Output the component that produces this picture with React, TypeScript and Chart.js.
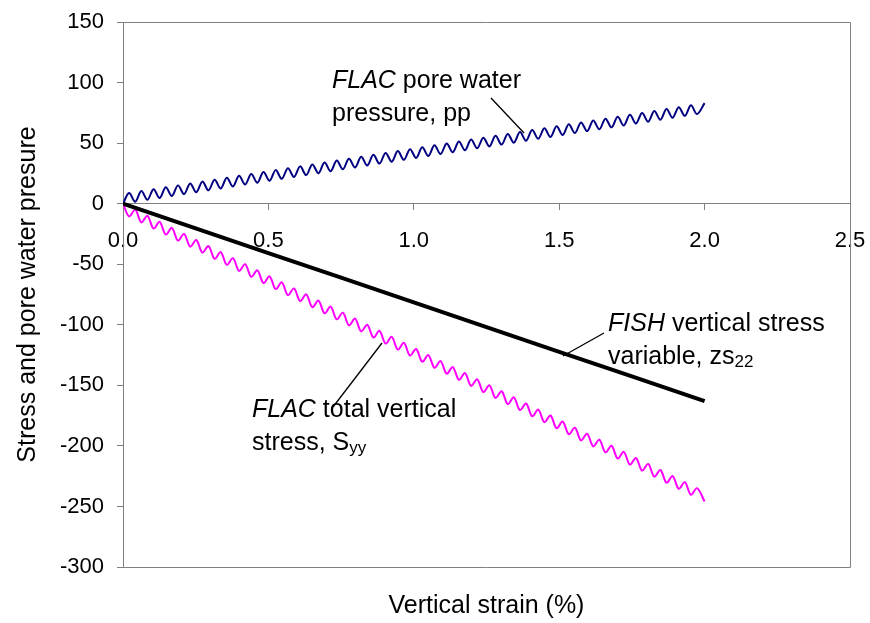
import React, { useEffect, useRef } from 'react';
import { Chart, registerables } from 'chart.js';

Chart.register(...registerables);

// Vertical strain (%) sample points for the FLAC histories
const strain = [
  0, 0.021, 0.042, 0.063, 0.084, 0.105, 0.126, 0.147, 0.168, 0.189,
  0.21, 0.231, 0.252, 0.273, 0.294, 0.315, 0.336, 0.357, 0.378, 0.399,
  0.42, 0.441, 0.462, 0.483, 0.504, 0.525, 0.546, 0.567, 0.588, 0.609,
  0.63, 0.651, 0.672, 0.693, 0.714, 0.735, 0.756, 0.777, 0.798, 0.819,
  0.84, 0.861, 0.882, 0.903, 0.924, 0.945, 0.966, 0.987, 1.008, 1.029,
  1.05, 1.071, 1.092, 1.113, 1.134, 1.155, 1.176, 1.197, 1.218, 1.239,
  1.26, 1.281, 1.302, 1.323, 1.344, 1.365, 1.386, 1.407, 1.428, 1.449,
  1.47, 1.491, 1.512, 1.533, 1.554, 1.575, 1.596, 1.617, 1.638, 1.659,
  1.68, 1.701, 1.722, 1.743, 1.764, 1.785, 1.806, 1.827, 1.848, 1.869,
  1.89, 1.911, 1.932, 1.953, 1.974, 2.0,
];

// FLAC pore water pressure, pp
const porePressure = [
  0, 8.8, 1.6, 10.4, 3.2, 11.9, 4.7, 13.5, 6.3, 15.1,
  7.9, 16.7, 9.5, 18.2, 11.0, 19.8, 12.6, 21.4, 14.2, 23.0,
  15.8, 24.5, 17.3, 26.1, 18.9, 27.7, 20.5, 29.3, 22.1, 30.8,
  23.6, 32.4, 25.2, 34.0, 26.8, 35.6, 28.4, 37.1, 29.9, 38.7,
  31.5, 40.3, 33.1, 41.9, 34.7, 43.4, 36.2, 45.0, 37.8, 46.6,
  39.4, 48.2, 41.0, 49.7, 42.5, 51.3, 44.1, 52.9, 45.7, 54.5,
  47.3, 56.0, 48.8, 57.6, 50.4, 59.2, 52.0, 60.8, 53.6, 62.3,
  55.1, 63.9, 56.7, 65.5, 58.3, 67.1, 59.9, 68.6, 61.4, 70.2,
  63.0, 71.8, 64.6, 73.4, 66.2, 74.9, 67.7, 76.5, 69.3, 78.1,
  70.9, 79.7, 72.5, 81.2, 74.0, 83.0,
];

// FLAC total vertical stress, Syy
const totalStress = [
  0, -10.5, -5.0, -15.5, -10.0, -20.5, -15.0, -25.5, -20.0, -30.5,
  -25.0, -35.5, -30.0, -40.4, -35.0, -45.5, -40.0, -50.5, -45.0, -55.5,
  -50.0, -60.4, -55.0, -65.5, -60.0, -70.5, -65.0, -75.5, -70.0, -80.4,
  -74.9, -85.5, -80.0, -90.5, -85.0, -95.5, -90.0, -100.4, -94.9, -105.4,
  -100.0, -110.5, -105.0, -115.5, -110.0, -120.4, -114.9, -125.4, -120.0, -130.5,
  -125.0, -135.5, -130.0, -140.4, -134.9, -145.4, -139.9, -150.5, -145.0, -155.5,
  -150.0, -160.4, -154.9, -165.4, -159.9, -170.4, -165.0, -175.5, -170.0, -180.4,
  -174.9, -185.4, -179.9, -190.4, -185.0, -195.5, -190.0, -200.4, -194.9, -205.4,
  -199.9, -210.4, -204.9, -215.5, -210.0, -220.4, -214.9, -225.4, -219.9, -230.4,
  -224.9, -235.4, -230.0, -240.4, -234.9, -246.0,
];

// FISH vertical stress variable, zs22
const fishStrain = [0, 0.25, 0.5, 0.75, 1.0, 1.25, 1.5, 1.75, 2.0];
const fishStress = [0, -20.4, -40.8, -61.1, -81.5, -101.9, -122.3, -142.6, -163];

const xTickMin = 0;
const xTickMax = 2.5;
const xTickStep = 0.5;
const yTickMin = -300;
const yTickMax = 150;
const yTickStep = 50;

const xTitle = 'Vertical strain (%)';
const yTitle = 'Stress and pore water presure';

const FAMILY = '"Liberation Sans", Arial, Helvetica, sans-serif';
const TICK_SIZE = 22;
const TEXT_SIZE = 25;
const AXIS_GRAY = '#808080';

type Seg = { t: string; italic?: boolean; sub?: boolean };

const annotations: { lines: { x: number; y: number; segs: Seg[] }[]; leader: [number, number, number, number] }[] = [
  {
    lines: [
      { x: 332, y: 88, segs: [{ t: 'FLAC', italic: true }, { t: ' pore water' }] },
      { x: 332, y: 121, segs: [{ t: 'pressure, pp' }] },
    ],
    leader: [491, 98, 524, 133],
  },
  {
    lines: [
      { x: 608, y: 331, segs: [{ t: 'FISH', italic: true }, { t: ' vertical stress' }] },
      { x: 608, y: 364, segs: [{ t: 'variable, zs' }, { t: '22', sub: true }] },
    ],
    leader: [604, 333, 563, 356],
  },
  {
    lines: [
      { x: 252, y: 417, segs: [{ t: 'FLAC', italic: true }, { t: ' total vertical' }] },
      { x: 252, y: 450, segs: [{ t: 'stress, S' }, { t: 'yy', sub: true }] },
    ],
    leader: [382, 343, 333, 407],
  },
];

function drawRich(ctx: CanvasRenderingContext2D, x: number, y: number, segs: Seg[], size: number) {
  let cx = x;
  for (const s of segs) {
    const fs = s.sub ? Math.round(size * 0.66) : size;
    ctx.font = `${s.italic ? 'italic ' : ''}${fs}px ${FAMILY}`;
    ctx.fillText(s.t, cx, y + (s.sub ? size * 0.1 : 0));
    cx += ctx.measureText(s.t).width;
  }
}

const overlayPlugin = {
  id: 'overlay',
  afterDraw(chart: any) {
    const ctx: CanvasRenderingContext2D = chart.ctx;
    const a = chart.chartArea;
    ctx.save();
    // plot area frame (top, right, bottom)
    ctx.strokeStyle = AXIS_GRAY;
    ctx.lineWidth = 1;
    ctx.beginPath();
    ctx.moveTo(a.left, a.top + 0.5);
    ctx.lineTo(a.right + 0.5, a.top + 0.5);
    ctx.lineTo(a.right + 0.5, a.bottom + 0.5);
    ctx.lineTo(a.left, a.bottom + 0.5);
    ctx.stroke();

    // axis titles
    ctx.fillStyle = '#000';
    ctx.font = `${TEXT_SIZE}px ${FAMILY}`;
    ctx.textAlign = 'center';
    ctx.textBaseline = 'middle';
    ctx.fillText(xTitle, (a.left + a.right) / 2, 606);
    ctx.save();
    ctx.translate(28, (a.top + a.bottom) / 2);
    ctx.rotate(-Math.PI / 2);
    ctx.fillText(yTitle, 0, 0);
    ctx.restore();

    // annotations
    ctx.textAlign = 'left';
    ctx.textBaseline = 'alphabetic';
    for (const an of annotations) {
      for (const ln of an.lines) drawRich(ctx, ln.x, ln.y, ln.segs, TEXT_SIZE);
      const [x1, y1, x2, y2] = an.leader;
      ctx.strokeStyle = '#000';
      ctx.lineWidth = 1.3;
      ctx.beginPath();
      ctx.moveTo(x1, y1);
      ctx.lineTo(x2, y2);
      ctx.stroke();
    }
    ctx.restore();
  },
};

export default function App() {
  const ref = useRef<HTMLCanvasElement | null>(null);

  useEffect(() => {
    if (!ref.current) return;
    const tickFont = { family: FAMILY, size: TICK_SIZE };
    const chart = new Chart(ref.current, {
      type: 'line',
      data: {
        datasets: [
          {
            label: 'FISH vertical stress variable, zs22',
            data: fishStrain.map((x, i) => ({ x, y: fishStress[i] })),
            borderColor: '#000000',
            borderWidth: 4,
            pointRadius: 0,
            tension: 0,
          },
          {
            label: 'FLAC pore water pressure, pp',
            data: strain.map((x, i) => ({ x, y: porePressure[i] })),
            borderColor: '#000080',
            borderWidth: 2,
            pointRadius: 0,
            tension: 0.35,
          },
          {
            label: 'FLAC total vertical stress, Syy',
            data: strain.map((x, i) => ({ x, y: totalStress[i] })),
            borderColor: '#FF00FF',
            borderWidth: 2,
            pointRadius: 0,
            tension: 0.35,
          },
        ],
      },
      options: {
        animation: false,
        responsive: false,
        devicePixelRatio: 1,
        layout: { padding: { top: 22, right: 20, bottom: 56, left: 0 } },
        plugins: { legend: { display: false }, tooltip: { enabled: false } },
        scales: {
          x: {
            type: 'linear',
            min: xTickMin,
            max: xTickMax,
            position: { y: 0 } as any,
            afterFit: (s: any) => {
              s.height = 0;
              s.paddingLeft = 0;
              s.paddingRight = 0;
            },
            ticks: {
              stepSize: xTickStep,
              autoSkip: false,
              maxRotation: 0,
              padding: 18,
              color: '#000',
              font: tickFont,
              callback: (v: any) => Number(v).toFixed(1),
            },
            grid: { drawOnChartArea: false, drawTicks: true, tickLength: 6, color: AXIS_GRAY },
            border: { display: true, color: AXIS_GRAY, width: 1 },
          },
          y: {
            type: 'linear',
            min: yTickMin,
            max: yTickMax,
            afterFit: (s: any) => {
              s.width = 123;
              s.paddingTop = 0;
              s.paddingBottom = 0;
            },
            ticks: { stepSize: yTickStep, padding: 13, color: '#000', font: tickFont },
            grid: { drawOnChartArea: false, drawTicks: true, tickLength: 6, color: AXIS_GRAY },
            border: { display: true, color: AXIS_GRAY, width: 1 },
          },
        },
      },
      plugins: [overlayPlugin],
    });
    return () => chart.destroy();
  }, []);

  return (
    <div style={{ position: 'fixed', left: 0, top: 0, width: 870, height: 623, background: '#fff' }}>
      <canvas ref={ref} width={870} height={623} style={{ width: 870, height: 623, display: 'block' }} />
    </div>
  );
}
